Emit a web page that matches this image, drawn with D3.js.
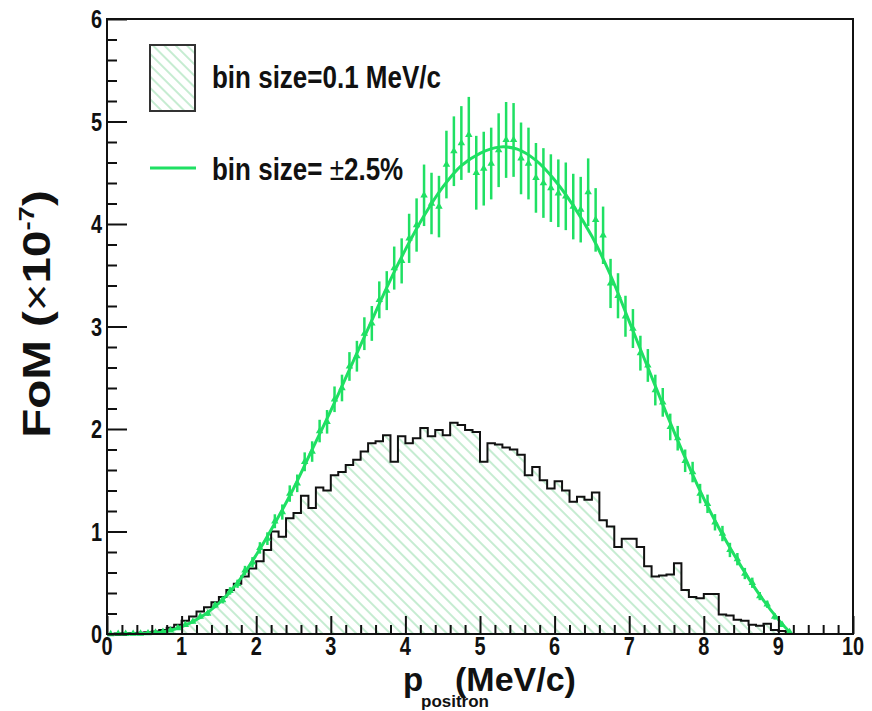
<!DOCTYPE html>
<html><head><meta charset="utf-8">
<script src="https://cdn.jsdelivr.net/npm/d3@7"></script>
<style>body{margin:0;background:#fff} svg{display:block} text{font-family:"Liberation Sans",Arial,Helvetica,sans-serif;font-weight:bold;fill:#111}</style>
</head><body>
<svg id="c" width="872" height="711"></svg>
<script>
// ---- data ----
const binStart = 0.0, binWidth = 0.1;
const histValues = [
 0.000,0.005,0.008,0.010,0.012,0.018,0.025,0.040,0.060,0.090,
 0.130,0.170,0.220,0.260,0.310,0.360,0.430,0.490,0.560,0.640,
 0.710,0.820,1.000,0.950,1.130,1.180,1.350,1.230,1.430,1.400,
 1.550,1.580,1.650,1.700,1.780,1.860,1.880,1.940,1.680,1.930,
 1.860,1.910,2.010,1.930,1.990,1.940,2.060,2.040,1.990,1.970,
 1.680,1.860,1.850,1.820,1.800,1.750,1.550,1.630,1.500,1.420,
 1.490,1.400,1.290,1.340,1.310,1.380,1.110,1.050,0.850,0.930,
 0.930,0.850,0.660,0.560,0.570,0.580,0.690,0.430,0.360,0.350,
 0.390,0.390,0.190,0.180,0.140,0.130,0.090,0.080,0.100,0.040,
 0.030,0.000];
const pointX = [
 0.05,0.15,0.25,0.35,0.45,0.55,0.65,0.75,0.85,0.95,
 1.05,1.15,1.25,1.35,1.45,1.55,1.65,1.75,1.85,1.95,
 2.05,2.15,2.25,2.35,2.45,2.55,2.65,2.75,2.85,2.95,
 3.05,3.15,3.25,3.35,3.45,3.55,3.65,3.75,3.85,3.95,
 4.05,4.15,4.25,4.35,4.45,4.55,4.65,4.75,4.85,4.95,
 5.05,5.15,5.25,5.35,5.45,5.55,5.65,5.75,5.85,5.95,
 6.05,6.15,6.25,6.35,6.45,6.55,6.65,6.75,6.85,6.95,
 7.05,7.15,7.25,7.35,7.45,7.55,7.65,7.75,7.85,7.95,
 8.05,8.15,8.25,8.35,8.45,8.55,8.65,8.75,8.85,8.95,
 9.05,9.15];
const pointY = [
 0.000,0.001,0.002,0.003,0.005,0.008,0.014,0.022,0.036,0.058,
 0.090,0.120,0.170,0.200,0.280,0.330,0.420,0.490,0.620,0.700,
 0.840,0.930,1.100,1.190,1.370,1.470,1.680,1.780,1.980,2.070,
 2.290,2.400,2.610,2.710,2.930,3.030,3.260,3.350,3.570,3.640,
 3.860,3.990,4.280,4.200,4.170,4.580,4.710,4.790,4.870,4.500,
 4.540,4.590,4.720,4.820,4.820,4.640,4.590,4.450,4.400,4.350,
 4.300,4.270,4.170,4.140,4.310,4.040,3.890,3.420,3.300,3.100,
 2.980,2.740,2.620,2.380,2.260,2.020,1.910,1.690,1.580,1.370,
 1.270,1.090,0.980,0.820,0.730,0.590,0.500,0.370,0.290,0.170,
 0.090,0.020];
const pointErr = [
 0.002,0.002,0.003,0.003,0.004,0.005,0.006,0.007,0.009,0.011,
 0.014,0.017,0.020,0.024,0.028,0.032,0.036,0.040,0.045,0.050,
 0.056,0.062,0.068,0.074,0.080,0.086,0.092,0.100,0.110,0.115,
 0.125,0.130,0.140,0.150,0.160,0.170,0.180,0.190,0.210,0.220,
 0.240,0.260,0.300,0.300,0.300,0.330,0.340,0.360,0.370,0.360,
 0.360,0.350,0.360,0.370,0.360,0.350,0.350,0.340,0.340,0.330,
 0.330,0.330,0.320,0.320,0.330,0.310,0.280,0.240,0.220,0.200,
 0.190,0.170,0.160,0.150,0.140,0.130,0.120,0.110,0.100,0.095,
 0.090,0.080,0.075,0.070,0.060,0.055,0.050,0.040,0.035,0.030,
 0.020,0.015];
const fitX = [0.1,0.5,0.75,1.0,1.25,1.5,1.75,2.0,2.25,2.5,2.75,3.0,3.25,3.5,3.75,4.0,4.25,4.5,4.75,5.0,5.25,5.5,5.75,6.0,6.25,6.5,6.75,7.0,7.25,7.5,7.75,8.0,8.25,8.5,8.75,9.0,9.15];
const fitY = [0.0,0.005,0.02,0.07,0.16,0.30,0.50,0.77,1.08,1.42,1.80,2.18,2.58,2.98,3.38,3.75,4.08,4.36,4.57,4.69,4.75,4.73,4.62,4.43,4.18,3.88,3.50,3.05,2.60,2.15,1.72,1.32,0.97,0.66,0.38,0.14,0.02];
const xTickLabels = ["0","1","2","3","4","5","6","7","8","9","10"];
const yTickLabels = ["0","1","2","3","4","5","6"];
const legendLabels = ["bin size=0.1 MeV/c", "bin size= ", "\u00B1", "2.5%"];

// ---- drawing ----
const GREEN = "#1fe063", HATCH = "#9fe0b3";
const svg = d3.select("#c");
const x = d3.scaleLinear().domain([0,10]).range([107,853]);
const y = d3.scaleLinear().domain([0,6]).range([634,19]);

const defs = svg.append("defs");
const pat = defs.append("pattern").attr("id","hatch").attr("patternUnits","userSpaceOnUse")
  .attr("width",8).attr("height",8).attr("patternTransform","rotate(-45)");
pat.append("line").attr("x1",4).attr("y1",0).attr("x2",4).attr("y2",8)
  .attr("stroke",HATCH).attr("stroke-width",1.2);

// histogram
const histPts = histValues.map((v,i)=>[binStart+i*binWidth, v]);
histPts.push([binStart+histValues.length*binWidth, histValues[histValues.length-1]]);
const area = d3.area().x(d=>x(d[0])).y0(y(0)).y1(d=>y(d[1])).curve(d3.curveStepAfter);
svg.append("path").attr("d",area(histPts)).attr("fill","url(#hatch)");
const line = d3.line().x(d=>x(d[0])).y(d=>y(d[1])).curve(d3.curveStepAfter);
svg.append("path").attr("d",line(histPts)).attr("fill","none").attr("stroke","#111").attr("stroke-width",2);

// fit curve
const fitLine = d3.line().x((d,i)=>x(fitX[i])).y((d,i)=>y(fitY[i])).curve(d3.curveCatmullRom);
svg.append("path").attr("d",fitLine(fitX)).attr("fill","none").attr("stroke",GREEN).attr("stroke-width",3);

// error bars & markers
const g = svg.append("g");
pointX.forEach((px,i)=>{
  g.append("line").attr("x1",x(px)).attr("x2",x(px))
   .attr("y1",y(Math.max(0,pointY[i]-pointErr[i]))).attr("y2",y(pointY[i]+pointErr[i]))
   .attr("stroke",GREEN).attr("stroke-width",2.5);
  g.append("path").attr("d",d3.symbol(d3.symbolTriangle,24)())
   .attr("transform",`translate(${x(px)},${y(pointY[i])})`).attr("fill",GREEN);
});

// frame
svg.append("rect").attr("x",107).attr("y",19).attr("width",746).attr("height",615)
  .attr("fill","none").attr("stroke","#111").attr("stroke-width",2);

// axes ticks (inside)
const xMajor = d3.range(0,11,1), xMinor = d3.range(0,10.01,0.2).filter(v=>Math.abs(v-Math.round(v))>1e-6);
const yMajor = d3.range(0,7,1), yMinor = d3.range(0,6.01,0.2).filter(v=>Math.abs(v-Math.round(v))>1e-6);
svg.append("g").attr("transform","translate(0,634)")
  .call(d3.axisBottom(x).tickValues(xMajor).tickSize(-18).tickFormat(""))
  .call(a=>{a.select(".domain").remove(); a.selectAll("line").attr("stroke","#111").attr("stroke-width",2);});
svg.append("g").attr("transform","translate(0,634)")
  .call(d3.axisBottom(x).tickValues(xMinor).tickSize(-9).tickFormat(""))
  .call(a=>{a.select(".domain").remove(); a.selectAll("line").attr("stroke","#111").attr("stroke-width",2);});
svg.append("g").attr("transform","translate(107,0)")
  .call(d3.axisLeft(y).tickValues(yMajor).tickSize(-20).tickFormat(""))
  .call(a=>{a.select(".domain").remove(); a.selectAll("line").attr("stroke","#111").attr("stroke-width",2);});
svg.append("g").attr("transform","translate(107,0)")
  .call(d3.axisLeft(y).tickValues(yMinor).tickSize(-10).tickFormat(""))
  .call(a=>{a.select(".domain").remove(); a.selectAll("line").attr("stroke","#111").attr("stroke-width",2);});

// tick labels
xTickLabels.forEach((t,i)=>{
  svg.append("text").text(t).attr("text-anchor","middle").attr("font-size",21)
    .attr("transform",`translate(${x(i)},${655}) scale(0.95,1.2)`);
});
yTickLabels.forEach((t,i)=>{
  svg.append("text").text(t).attr("text-anchor","end").attr("font-size",21)
    .attr("transform",`translate(102,${y(i)+9}) scale(0.95,1.2)`);
});

// x-axis title: p with subscript, then (MeV/c)
const xt = svg.append("text").attr("font-size",33);
xt.append("tspan").attr("x",403).attr("y",691).text("p");
xt.append("tspan").attr("x",421).attr("y",707).attr("font-size",17).text("positron");
xt.append("tspan").attr("x",455).attr("y",691).attr("font-size",34).text("(MeV/c)");

const yt = svg.append("text").attr("font-size",38).attr("text-anchor","middle")
  .attr("transform","translate(50,314) rotate(-90) scale(1.25,1)");
yt.append("tspan").text("FoM (");
yt.append("tspan").text("\u00D7").attr("font-weight","normal");
yt.append("tspan").text("10");
yt.append("tspan").text("-7").attr("font-size",22).attr("dy",-16);
yt.append("tspan").text(")").attr("dy",16);

// legend
svg.append("rect").attr("x",150).attr("y",45).attr("width",45).attr("height",66)
  .attr("fill","url(#hatch)").attr("stroke","#333").attr("stroke-width",2);
svg.append("line").attr("x1",150).attr("x2",196).attr("y1",168).attr("y2",168)
  .attr("stroke",GREEN).attr("stroke-width",3);
svg.append("text").attr("font-size",26).attr("transform","translate(212,88) scale(1,1.2)").text(legendLabels[0]);
const l2 = svg.append("text").attr("font-size",26).attr("transform","translate(212,180) scale(1,1.2)");
l2.append("tspan").text(legendLabels[1]);
l2.append("tspan").text(legendLabels[2]).attr("font-weight","normal");
l2.append("tspan").text(legendLabels[3]);
</script>
</body></html>
